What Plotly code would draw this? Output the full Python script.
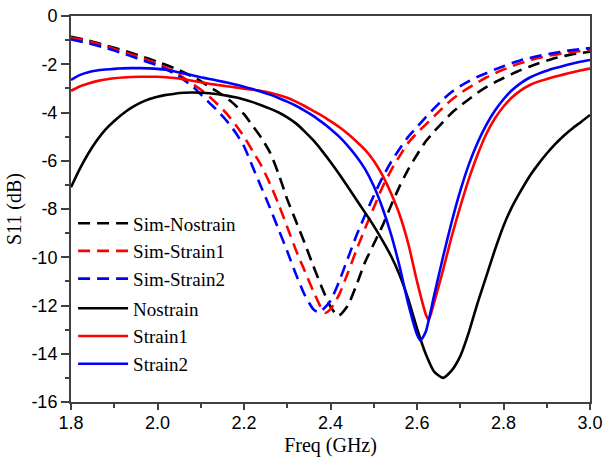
import plotly.graph_objects as go

# ---------------- data ----------------
freq_common = [1.80, 1.82, 1.84, 1.86, 1.88, 1.90, 1.92, 1.94, 1.96, 1.98,
               2.00, 2.02, 2.04, 2.06, 2.08, 2.10, 2.12, 2.14, 2.16, 2.18,
               2.20, 2.22, 2.24, 2.26, 2.28, 2.30, 2.32, 2.34, 2.36, 2.38,
               2.40, 2.42, 2.44, 2.46, 2.48, 2.50, 2.52, 2.54, 2.56, 2.58,
               2.60, 2.62, 2.64, 2.66, 2.68, 2.70, 2.72, 2.74, 2.76, 2.78,
               2.80, 2.82, 2.84, 2.86, 2.88, 2.90, 2.92, 2.94, 2.96, 2.98, 3.00]

nostrain_x = freq_common
nostrain_y = [-7.10, -6.35, -5.70, -5.15, -4.70, -4.35, -4.05, -3.80, -3.60, -3.45,
              -3.35, -3.27, -3.22, -3.18, -3.17, -3.18, -3.20, -3.24, -3.30, -3.37,
              -3.46, -3.57, -3.70, -3.84, -4.00, -4.20, -4.45, -4.78, -5.15, -5.58,
              -6.05, -6.55, -7.08, -7.62, -8.15, -8.70, -9.30, -9.95, -10.75, -11.75,
              -12.95, -14.00, -14.75, -15.00, -14.70, -14.10, -13.10, -11.90, -10.80, -9.70,
              -8.70, -7.90, -7.25, -6.65, -6.15, -5.70, -5.30, -4.95, -4.65, -4.38, -4.10]

strain1_x = [1.80, 1.82, 1.84, 1.86, 1.88, 1.90, 1.92, 1.94, 1.96, 1.98,
             2.00, 2.02, 2.04, 2.06, 2.08, 2.10, 2.12, 2.14, 2.16, 2.18,
             2.20, 2.22, 2.24, 2.26, 2.28, 2.30, 2.32, 2.34, 2.36, 2.38,
             2.40, 2.42, 2.44, 2.46, 2.48, 2.50, 2.52, 2.54, 2.56, 2.58,
             2.60, 2.62, 2.627, 2.64, 2.66, 2.68, 2.70, 2.72, 2.74, 2.76, 2.78,
             2.80, 2.82, 2.84, 2.86, 2.88, 2.90, 2.92, 2.94, 2.96, 2.98, 3.00]
strain1_y = [-3.10, -2.92, -2.80, -2.70, -2.63, -2.58, -2.55, -2.53, -2.52, -2.52,
             -2.52, -2.54, -2.57, -2.62, -2.68, -2.75, -2.81, -2.86, -2.91, -2.96,
             -3.01, -3.06, -3.11, -3.18, -3.27, -3.39, -3.55, -3.73, -3.93, -4.13,
             -4.36, -4.60, -4.88, -5.20, -5.55, -6.00, -6.60, -7.35, -8.25, -9.45,
             -11.00, -12.35, -12.60, -11.85, -10.55, -9.15, -7.90, -6.75, -5.75, -4.90, -4.25,
             -3.75, -3.37, -3.08, -2.87, -2.72, -2.61, -2.51, -2.42, -2.33, -2.25, -2.18]

strain2_x = [1.80, 1.82, 1.84, 1.86, 1.88, 1.90, 1.92, 1.94, 1.96, 1.98,
             2.00, 2.02, 2.04, 2.06, 2.08, 2.10, 2.12, 2.14, 2.16, 2.18,
             2.20, 2.22, 2.24, 2.26, 2.28, 2.30, 2.32, 2.34, 2.36, 2.38,
             2.40, 2.42, 2.44, 2.46, 2.48, 2.50, 2.52, 2.54, 2.56, 2.58,
             2.60, 2.608, 2.62, 2.64, 2.66, 2.68, 2.70, 2.72, 2.74, 2.76, 2.78,
             2.80, 2.82, 2.84, 2.86, 2.88, 2.90, 2.92, 2.94, 2.96, 2.98, 3.00]
strain2_y = [-2.65, -2.45, -2.33, -2.26, -2.22, -2.19, -2.17, -2.16, -2.16, -2.17,
             -2.19, -2.23, -2.30, -2.38, -2.46, -2.54, -2.61, -2.68, -2.76, -2.84,
             -2.93, -3.03, -3.14, -3.26, -3.40, -3.55, -3.72, -3.92, -4.14, -4.40,
             -4.68, -5.00, -5.38, -5.82, -6.35, -7.05, -7.95, -9.05, -10.40, -11.95,
             -13.20, -13.45, -13.10, -11.55, -10.00, -8.55, -7.25, -6.15, -5.25, -4.52, -3.93,
             -3.45, -3.07, -2.78, -2.56, -2.40, -2.27, -2.16, -2.06, -1.97, -1.89, -1.82]

sim_nostrain_x = [1.80, 1.84, 1.88, 1.92, 1.96, 2.00, 2.04, 2.08, 2.10, 2.12,
                  2.14, 2.16, 2.18, 2.20, 2.22, 2.24, 2.26, 2.28, 2.30, 2.32,
                  2.34, 2.36, 2.38, 2.40, 2.418, 2.44, 2.46, 2.48, 2.50, 2.52,
                  2.54, 2.56, 2.58, 2.60, 2.62, 2.64, 2.66, 2.68, 2.70, 2.72,
                  2.74, 2.76, 2.78, 2.80, 2.82, 2.84, 2.86, 2.88, 2.90, 2.92,
                  2.94, 2.96, 2.98, 3.00]
sim_nostrain_y = [-0.86, -1.02, -1.22, -1.42, -1.65, -1.90, -2.17, -2.50, -2.70, -2.93,
                  -3.15, -3.40, -3.70, -4.07, -4.55, -5.05, -5.65, -6.55, -7.60, -8.50,
                  -9.40, -10.35, -11.25, -12.05, -12.43, -12.00, -11.15, -10.20, -9.45, -8.70,
                  -7.85, -7.05, -6.35, -5.75, -5.20, -4.78, -4.40, -4.02, -3.72, -3.45,
                  -3.18, -2.95, -2.75, -2.57, -2.40, -2.24, -2.10, -1.97, -1.85, -1.74,
                  -1.66, -1.58, -1.53, -1.48]

sim_strain1_x = [1.80, 1.84, 1.88, 1.92, 1.96, 2.00, 2.04, 2.08, 2.10, 2.12,
                 2.14, 2.16, 2.18, 2.20, 2.22, 2.24, 2.26, 2.28, 2.30, 2.32,
                 2.34, 2.36, 2.38, 2.388, 2.40, 2.42, 2.44, 2.46, 2.48, 2.50,
                 2.52, 2.54, 2.56, 2.58, 2.60, 2.62, 2.64, 2.66, 2.68, 2.70,
                 2.72, 2.74, 2.76, 2.78, 2.80, 2.82, 2.84, 2.86, 2.88, 2.90,
                 2.92, 2.94, 2.96, 2.98, 3.00]
sim_strain1_y = [-0.90, -1.05, -1.25, -1.48, -1.72, -1.98, -2.32, -2.80, -3.05, -3.35,
                 -3.68, -4.05, -4.50, -5.00, -5.60, -6.20, -6.95, -7.80, -8.75, -9.70,
                 -10.55, -11.40, -12.15, -12.30, -12.15, -11.55, -10.65, -9.70, -8.80, -7.95,
                 -7.10, -6.40, -5.80, -5.25, -4.85, -4.50, -4.15, -3.80, -3.47, -3.20,
                 -2.97, -2.75, -2.55, -2.38, -2.22, -2.08, -1.95, -1.84, -1.74, -1.66,
                 -1.60, -1.54, -1.49, -1.45, -1.41]

sim_strain2_x = [1.80, 1.84, 1.88, 1.92, 1.96, 2.00, 2.04, 2.08, 2.10, 2.12,
                 2.14, 2.16, 2.18, 2.20, 2.22, 2.24, 2.26, 2.28, 2.30, 2.32,
                 2.34, 2.36, 2.37, 2.38, 2.40, 2.42, 2.44, 2.46, 2.48, 2.50,
                 2.52, 2.54, 2.56, 2.58, 2.60, 2.62, 2.64, 2.66, 2.68, 2.70,
                 2.72, 2.74, 2.76, 2.78, 2.80, 2.82, 2.84, 2.86, 2.88, 2.90,
                 2.92, 2.94, 2.96, 2.98, 3.00]
sim_strain2_y = [-0.97, -1.13, -1.32, -1.55, -1.80, -2.05, -2.40, -2.90, -3.25, -3.60,
                 -3.95, -4.35, -4.82, -5.40, -6.25, -7.10, -7.95, -8.85, -9.75, -10.70,
                 -11.55, -12.15, -12.27, -12.20, -11.80, -11.00, -10.05, -9.10, -8.25, -7.45,
                 -6.70, -6.05, -5.50, -5.00, -4.60, -4.20, -3.82, -3.46, -3.15, -2.91,
                 -2.70, -2.52, -2.37, -2.22, -2.08, -1.95, -1.83, -1.74, -1.66, -1.59,
                 -1.52, -1.46, -1.41, -1.37, -1.33]

x_ticks = [1.8, 2.0, 2.2, 2.4, 2.6, 2.8, 3.0]
x_tick_labels = ["1.8", "2.0", "2.2", "2.4", "2.6", "2.8", "3.0"]
y_ticks = [0, -2, -4, -6, -8, -10, -12, -14, -16]
y_tick_labels = ["0", "-2", "-4", "-6", "-8", "-10", "-12", "-14", "-16"]

# ---------------- figure ----------------
series = [
    ("Sim-Nostrain", sim_nostrain_x, sim_nostrain_y, "black", "12px,7px", "sim"),
    ("Sim-Strain1", sim_strain1_x, sim_strain1_y, "#ff0000", "12px,7px", "sim"),
    ("Sim-Strain2", sim_strain2_x, sim_strain2_y, "#0000ff", "12px,7px", "sim"),
    ("Nostrain", nostrain_x, nostrain_y, "black", "solid", "meas"),
    ("Strain1", strain1_x, strain1_y, "#ff0000", "solid", "meas"),
    ("Strain2", strain2_x, strain2_y, "#0000ff", "solid", "meas"),
]

fig = go.Figure()
for name, xs, ys, color, dash, grp in series:
    fig.add_trace(go.Scatter(
        x=xs, y=ys, mode="lines", name=name, legendgroup=grp,
        line=dict(color=color, width=2.6, dash=dash, shape="spline", smoothing=0.6),
    ))

axis_color = "#404040"
fig.update_layout(
    width=604, height=459,
    margin=dict(l=71, r=14, t=16, b=57),
    paper_bgcolor="white", plot_bgcolor="white",
    showlegend=True,
    legend=dict(
        x=0.004, y=0.512, xanchor="left", yanchor="top",
        bgcolor="rgba(0,0,0,0)", borderwidth=0,
        font=dict(family="Liberation Serif, Times New Roman, serif", size=19, color="black"),
        traceorder="grouped", tracegroupgap=2, itemwidth=50,
    ),
    xaxis=dict(
        range=[1.8, 3.0], tickmode="array", tickvals=x_ticks, ticktext=x_tick_labels,
        ticks="outside", ticklen=6, tickwidth=1.5, tickcolor=axis_color,
        minor=dict(dtick=0.1, ticks="outside", ticklen=4, tickwidth=1.5, tickcolor=axis_color),
        showline=True, linecolor=axis_color, linewidth=2, mirror=True,
        showgrid=False, zeroline=False, automargin=False, ticklabelstandoff=-3,
        tickfont=dict(family="Liberation Sans, Arial, sans-serif", size=18, color="black"),
        title=dict(text="Freq (GHz)", standoff=6,
                   font=dict(family="Liberation Serif, Times New Roman, serif", size=20, color="black")),
    ),
    yaxis=dict(
        range=[-16, 0], tickmode="array", tickvals=y_ticks, ticktext=y_tick_labels,
        ticks="outside", ticklen=8, tickwidth=1.5, tickcolor=axis_color,
        minor=dict(dtick=1, ticks="outside", ticklen=4, tickwidth=1.5, tickcolor=axis_color),
        showline=True, linecolor=axis_color, linewidth=2, mirror=True,
        showgrid=False, zeroline=False, automargin=False,
        tickfont=dict(family="Liberation Sans, Arial, sans-serif", size=18, color="black"),
        title=dict(text="S11 (dB)", standoff=4,
                   font=dict(family="Liberation Serif, Times New Roman, serif", size=20, color="black")),
    ),
)

fig.write_html(
    "out.html",
    config={"displayModeBar": False},
    post_script="document.body.style.margin='0';document.body.style.overflow='hidden';",
)
